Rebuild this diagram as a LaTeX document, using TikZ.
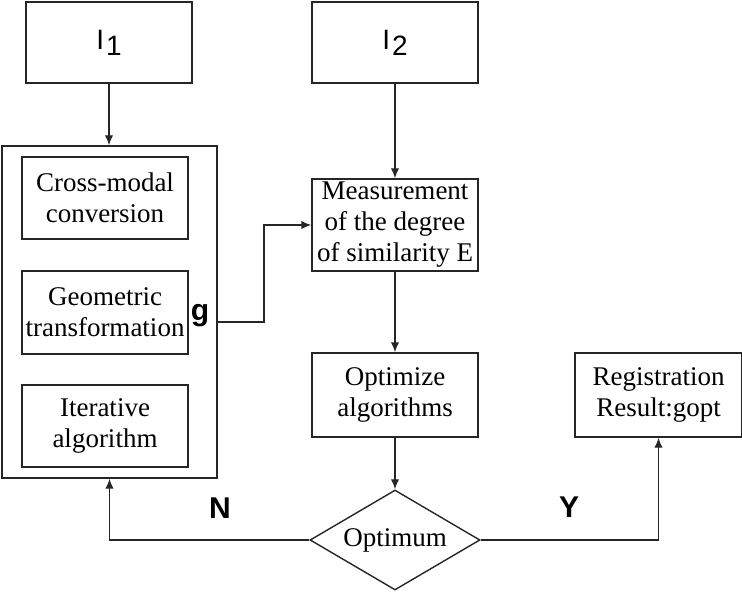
\documentclass[tikz,border=0pt]{standalone}
\usepackage{fontspec}
\setmainfont{Liberation Serif}
\newfontfamily\labelfont{Liberation Sans}
\usetikzlibrary{arrows.meta,shapes.geometric}

\begin{document}
\begin{tikzpicture}[
    x=0.5pt, y=-0.5pt,
    >={Latex[length=5pt,width=4.2pt]},
    ink/.style={draw=black!85, line width=0.7pt},
    box/.style={rectangle, ink, minimum width=83pt, minimum height=41pt, inner sep=0.5pt, align=center, font=\fontsize{13.5}{15.5}\selectfont},
    imgbox/.style={rectangle, ink, minimum width=83pt, minimum height=40.5pt, font=\labelfont\fontsize{14}{16}\selectfont},
    decision/.style={diamond, ink, minimum width=85pt, minimum height=50pt, inner sep=0pt, shape aspect=1.7, font=\fontsize{13.5}{16}\selectfont},
    flag/.style={font=\labelfont\bfseries\fontsize{15}{17}\selectfont},
    conn/.style={ink, ->}
  ]
    \useasboundingbox (0,0) rectangle (742,592);

    % Input images
    \node[imgbox] (img1) at (109,42.5) {I\kern1pt\raisebox{-3pt}{1}};
    \node[imgbox] (img2) at (395,42.5) {I\kern1pt\raisebox{-3pt}{2}};

    % Left block
    \node[rectangle, ink, minimum width=107.5pt, minimum height=166pt] (outer) at (109.5,312) {};
    \node[box] (cross) at (105,198) {Cross-modal\\conversion};
    \node[box, minimum height=41.5pt] (geom) at (105,312.5) {Geometric\\transformation};
    \node[box] (iter) at (105,426) {Iterative\\algorithm};

    % Right column
    \node[box, minimum height=46pt] (meas) at (395,225) {Measurement\\of the degree\\of similarity E};
    \node[box, minimum height=42pt] (optim) at (395,395) {Optimize\\algorithms};
    \node[box, minimum width=83.5pt, minimum height=42pt] (reg) at (658.5,395) {Registration\\Result:gopt};
    \node[decision] (opt) at (395,540) {Optimum};

    % Labels
    \node[flag] (glab) at (200,316) {g};
    \node[flag] (nlab) at (220,508) {N};
    \node[flag] (ylab) at (569,507) {Y};

    % Arrows
    \coordinate (gbend) at (264,322);
    \draw[conn] (img1.south) -- (img1.south |- outer.north);
    \draw[conn] (img2) -- (meas);
    \draw[conn] (outer.east |- gbend) -- (gbend) |- (meas.west);
    \draw[conn] (meas) -- (optim);
    \draw[conn] (optim) -- (opt);
    \draw[conn] (opt.east) -| (reg.south);
    \draw[conn] (opt.west) -| (outer.south);
  \end{tikzpicture}
\end{document}
